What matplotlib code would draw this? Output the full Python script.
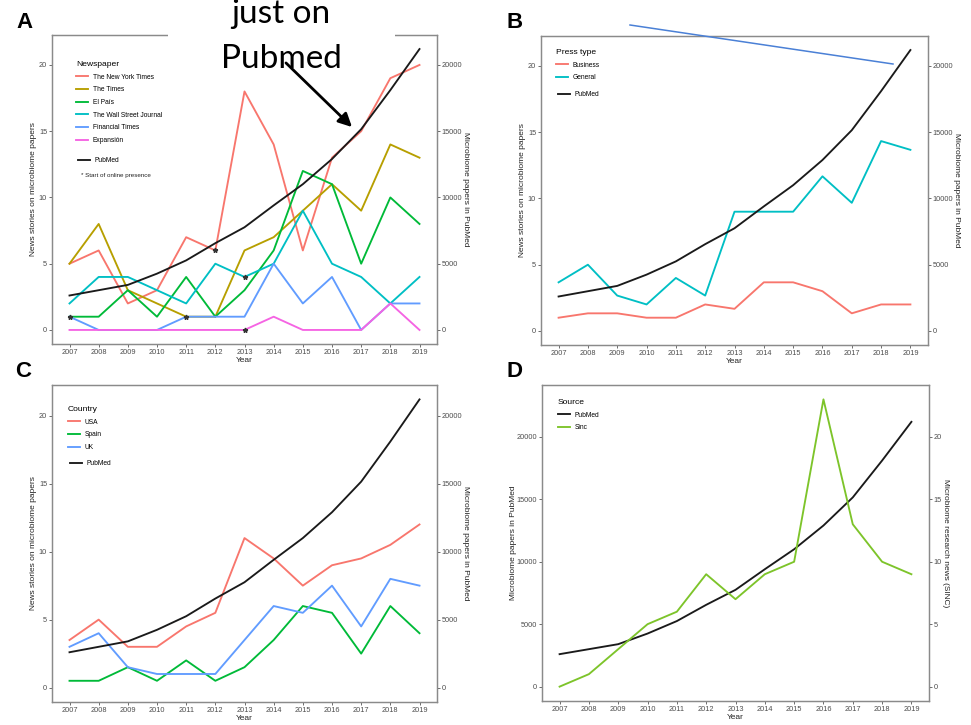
import matplotlib
matplotlib.use('Agg')
import matplotlib.pyplot as plt
from matplotlib.lines import Line2D
from matplotlib.legend import Legend
from matplotlib.patches import Rectangle, FancyArrowPatch

plt.rcParams['font.family'] = ['Liberation Sans', 'DejaVu Sans']

W, H = 971, 725

# 数据
years = list(range(2007, 2020))
pubmed = [2600, 3000, 3400, 4250, 5250, 6550, 7750, 9400, 11000, 12900, 15150, 18100, 21200]

# A - newspapers
nyt = [5, 6, 2, 3, 7, 6, 18, 14, 6, 13, 15, 19, 20]
times = [5, 8, 3, 2, 1, 1, 6, 7, 9, 11, 9, 14, 13]
elpais = [1, 1, 3, 1, 4, 1, 3, 6, 12, 11, 5, 10, 8]
wsj = [2, 4, 4, 3, 2, 5, 4, 5, 9, 5, 4, 2, 4]
ft = [1, 0, 0, 0, 1, 1, 1, 5, 2, 4, 0, 2, 2]
expansion = [0, 0, 0, 0, 0, 0, 0, 1, 0, 0, 0, 2, 0]
online_years = [2007, 2011, 2012, 2013, 2013]
online_values = [1, 1, 6, 4, 0]

# B - press type
business = [1, 1.33, 1.33, 1, 1, 2, 1.67, 3.67, 3.67, 3, 1.33, 2, 2]
general = [3.67, 5, 2.67, 2, 4, 2.67, 9, 9, 9, 11.67, 9.67, 14.33, 13.67]

# C - country
usa = [3.5, 5, 3, 3, 4.5, 5.5, 11, 9.5, 7.5, 9, 9.5, 10.5, 12]
spain = [0.5, 0.5, 1.5, 0.5, 2, 0.5, 1.5, 3.5, 6, 5.5, 2.5, 6, 4]
uk = [3, 4, 1.5, 1, 1, 1, 3.5, 6, 5.5, 7.5, 4.5, 8, 7.5]

# D - Sinc
sinc = [0, 1, 3, 5, 6, 9, 7, 9, 10, 23, 13, 10, 9]

RED, OLIVE, GREEN, TEAL, BLUE, PINK = '#F8766D', '#B79F00', '#00BA38', '#00BFC4', '#619CFF', '#F564E3'
LIME = '#7DC42A'
LW = 1.35

fig = plt.figure(figsize=(W / 100, H / 100), dpi=100)


def panel(l, t, r, b):
    return fig.add_axes([l / W, 1 - b / H, (r - l) / W, (b - t) / H])


def style(ax):
    for s in ax.spines.values():
        s.set_color('#8a8a8a')
        s.set_linewidth(0.9)
    ax.tick_params(length=2, width=0.6, color='#555555', labelsize=5.3,
                   labelcolor='#4d4d4d', pad=1.5)


def legend_at(ax, handles, labels, x, y, title=None):
    leg = Legend(ax, handles, labels, loc='upper left', bbox_to_anchor=(x / W, 1 - y / H),
                 bbox_transform=fig.transFigure, frameon=False, borderpad=0,
                 borderaxespad=0, fontsize=4.8, title=title, title_fontsize=6.1,
                 alignment='left', handlelength=1.8, handletextpad=0.7, labelspacing=0.85)
    ax.add_artist(leg)
    return leg


def news_panel(l, t, r, b, series, title, lx, ly, py):
    ax = panel(l, t, r, b)
    lines = []
    for vals, col, lab in series:
        ln, = ax.plot(years, vals, color=col, lw=LW, label=lab)
        lines.append(ln)
    ax.set_xlim(2006.4, 2019.6)
    ax.set_ylim(-1.06, 22.26)
    ax.set_xticks(years)
    ax.set_yticks([0, 5, 10, 15, 20])
    ax.set_xlabel('Year', fontsize=6, color='#222222', labelpad=1)
    ax.set_ylabel('News stories on microbiome papers', fontsize=6, color='#222222', labelpad=1.5)
    style(ax)
    ax2 = ax.twinx()
    pm, = ax2.plot(years, pubmed, color='#1a1a1a', lw=LW)
    ax2.set_ylim(-1060, 22260)
    ax2.set_yticks([0, 5000, 10000, 15000, 20000])
    ax2.set_ylabel('Microbiome papers in PubMed', fontsize=6, color='#222222',
                   rotation=270, va='bottom', labelpad=0)
    style(ax2)
    legend_at(ax2, lines, [s[2] for s in series], lx, ly, title)
    legend_at(ax2, [pm], ['PubMed'], lx + 2, py)
    return ax, ax2


# A
axA, axA2 = news_panel(52, 35, 437, 344,
                       [(nyt, RED, 'The New York Times'), (times, OLIVE, 'The Times'),
                        (elpais, GREEN, 'El País'), (wsj, TEAL, 'The Wall Street Journal'),
                        (ft, BLUE, 'Financial Times'), (expansion, PINK, 'Expansión')],
                       'Newspaper', 76, 61, 157)
axA.plot(online_years, online_values, ls='none', marker='*', ms=3.5, color='#333333', zorder=5)
axA2.text(81 / W, 1 - 176 / H, '* Start of online presence', transform=fig.transFigure,
          fontsize=4.5, color='#222222', va='center')

# B
news_panel(541, 36, 928, 345,
           [(business, RED, 'Business'), (general, TEAL, 'General')],
           'Press type', 556, 49, 91)

# C
news_panel(52, 385, 437, 702,
           [(usa, RED, 'USA'), (spain, GREEN, 'Spain'), (uk, BLUE, 'UK')],
           'Country', 68, 406, 460)

# D
axD = panel(542, 385, 929, 701)
pmD, = axD.plot(years, pubmed, color='#1a1a1a', lw=LW)
axD.set_xlim(2006.4, 2019.6)
axD.set_ylim(-1150, 24150)
axD.set_xticks(years)
axD.set_yticks([0, 5000, 10000, 15000, 20000])
axD.set_xlabel('Year', fontsize=6, color='#222222', labelpad=1)
axD.set_ylabel('Microbiome papers in PubMed', fontsize=6, color='#222222', labelpad=0)
style(axD)
axD2 = axD.twinx()
sn, = axD2.plot(years, sinc, color=LIME, lw=LW)
axD2.set_ylim(-1.15, 24.15)
axD2.set_yticks([0, 5, 10, 15, 20])
axD2.set_ylabel('Microbiome research news (SINC)', fontsize=6, color='#222222',
                rotation=270, va='bottom', labelpad=0)
style(axD2)
legend_at(axD2, [pmD, sn], ['PubMed', 'Sinc'], 558, 399, 'Source')

# panel letters
for lab, x, y in [('A', 16, 28), ('B', 506, 28), ('C', 15, 377), ('D', 506, 377)]:
    fig.text(x / W, 1 - y / H, lab, fontsize=16, fontweight='bold', va='baseline')

# overlay annotation
fig.add_artist(Rectangle((168 / W, 1 - 37 / H), (395 - 168) / W, 37 / H,
                         transform=fig.transFigure, facecolor='white', edgecolor='none', zorder=5))
fig.text(281 / W, 1 - 23 / H, 'just on', ha='center', va='baseline', fontsize=24,
         family='Lato', zorder=6)
fig.text(281 / W, 1 - 68 / H, 'Pubmed', ha='center', va='baseline', fontsize=24,
         family='Lato', zorder=6)
fig.add_artist(FancyArrowPatch((284 / W, 1 - 61 / H), (354 / W, 1 - 129 / H),
                               transform=fig.transFigure, arrowstyle='-|>', mutation_scale=20,
                               lw=2, color='black', zorder=6))
fig.add_artist(Line2D([630 / W, 893 / W], [1 - 25 / H, 1 - 64 / H], transform=fig.transFigure,
                      color='#4a80d6', lw=1.1, zorder=6))

fig.savefig('out.png', dpi=100, facecolor='white')
